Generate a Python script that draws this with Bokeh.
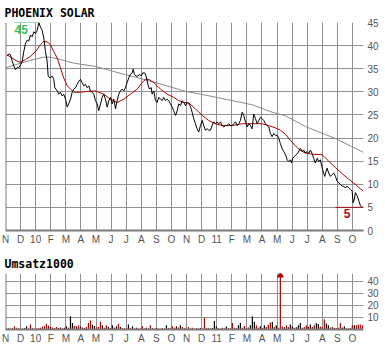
import numpy as np
from bokeh.plotting import figure
from bokeh.layouts import column
from bokeh.models import FixedTicker, Span
from bokeh.core.properties import value
from bokeh.embed import file_html
from bokeh.resources import INLINE

# ---------------- data ----------------
month_labels = ["N", "D", "10", "F", "M", "A", "M", "J", "J", "A", "S", "O",
                "N", "D", "11", "F", "M", "A", "M", "J", "J", "A", "S", "O"]
price_ticks = [0, 5, 10, 15, 20, 25, 30, 35, 40, 45]
vol_ticks = [10, 20, 30, 40]

# (month position since Nov 2009, price)
price_pts = [
    (0.07, 37.7), (0.22, 38.2), (0.33, 38.0), (0.44, 36.7), (0.55, 35.6), (0.66, 34.8),
    (0.78, 35.3), (0.88, 35.2), (0.99, 35.8), (1.11, 36.6), (1.21, 38.7), (1.33, 40.5),
    (1.44, 41.2), (1.54, 41.0), (1.66, 42.3), (1.77, 41.9), (1.88, 43.0), (1.99, 42.6),
    (2.10, 43.3), (2.21, 45.0), (2.32, 44.0), (2.43, 43.3), (2.54, 41.6), (2.65, 38.7),
    (2.76, 36.6), (2.83, 33.4), (2.94, 33.0), (3.09, 33.4), (3.20, 32.7), (3.27, 30.9),
    (3.43, 30.2), (3.53, 29.5), (3.64, 29.9), (3.76, 29.1), (3.86, 29.5), (3.98, 28.4),
    (4.09, 26.7), (4.19, 27.4), (4.31, 28.4), (4.42, 29.9), (4.53, 30.6), (4.64, 30.9),
    (4.75, 31.6), (4.86, 32.3), (4.97, 32.7), (5.08, 32.0), (5.19, 31.3), (5.30, 31.6),
    (5.41, 30.9), (5.52, 31.3), (5.63, 30.2), (5.75, 29.9), (5.85, 29.5), (5.96, 28.1),
    (6.08, 27.4), (6.18, 25.9), (6.30, 27.4), (6.41, 28.8), (6.51, 29.5), (6.63, 28.4),
    (6.74, 26.7), (6.85, 28.1), (6.96, 28.8), (7.07, 27.4), (7.18, 28.4), (7.29, 26.3),
    (7.40, 28.1), (7.51, 29.5), (7.62, 30.2), (7.73, 30.6), (7.84, 30.2), (7.95, 30.9),
    (8.06, 32.0), (8.17, 33.0), (8.28, 33.8), (8.40, 34.1), (8.46, 34.9), (8.55, 33.8),
    (8.66, 33.4), (8.77, 33.4), (8.88, 33.8), (8.99, 33.4), (9.10, 34.1), (9.23, 34.1),
    (9.32, 33.4), (9.43, 31.7), (9.54, 30.6), (9.66, 30.9), (9.72, 29.5), (9.83, 30.2),
    (9.94, 28.1), (10.05, 27.7), (10.16, 28.8), (10.27, 28.4), (10.38, 28.1), (10.49, 28.8),
    (10.60, 28.1), (10.72, 28.4), (10.82, 28.1), (10.93, 27.4), (11.05, 26.7), (11.15, 25.9),
    (11.27, 24.9), (11.38, 25.9), (11.48, 27.4), (11.60, 27.0), (11.71, 28.1), (11.82, 27.7),
    (11.93, 27.0), (12.04, 27.7), (12.15, 27.4), (12.26, 26.8), (12.37, 25.6), (12.48, 24.2),
    (12.59, 23.1), (12.70, 22.0), (12.81, 21.3), (12.92, 22.7), (13.04, 23.8), (13.14, 22.7),
    (13.25, 21.7), (13.37, 22.0), (13.47, 21.7), (13.59, 21.7), (13.70, 22.7), (13.80, 23.5),
    (13.92, 23.1), (14.03, 23.5), (14.14, 23.1), (14.25, 23.5), (14.36, 22.7), (14.47, 22.4),
    (14.58, 22.7), (14.69, 22.7), (14.80, 23.1), (14.91, 22.7), (15.02, 22.7), (15.13, 23.1),
    (15.24, 23.5), (15.36, 22.7), (15.46, 23.1), (15.57, 23.8), (15.69, 25.6), (15.79, 24.9),
    (15.91, 23.5), (16.02, 22.4), (16.12, 23.1), (16.24, 22.7), (16.35, 22.0), (16.45, 25.2),
    (16.57, 24.2), (16.68, 23.1), (16.79, 23.8), (16.90, 24.5), (17.01, 24.2), (17.12, 23.8),
    (17.23, 23.1), (17.34, 22.7), (17.45, 22.4), (17.56, 21.0), (17.67, 20.3), (17.78, 21.0),
    (17.89, 20.6), (18.01, 20.6), (18.12, 19.9), (18.22, 18.8), (18.33, 17.8), (18.44, 17.1),
    (18.56, 16.4), (18.67, 15.3), (18.78, 14.9), (18.89, 15.3), (18.96, 14.6), (19.04, 15.6),
    (19.15, 16.0), (19.26, 16.4), (19.37, 16.7), (19.48, 17.4), (19.55, 17.8), (19.66, 17.1),
    (19.77, 17.4), (19.88, 16.7), (19.99, 17.1), (20.10, 16.7), (20.21, 17.4), (20.32, 16.7),
    (20.43, 15.6), (20.54, 14.6), (20.66, 15.6), (20.76, 14.9), (20.87, 15.3), (20.99, 13.5),
    (21.09, 12.4), (21.16, 11.7), (21.25, 12.8), (21.32, 13.5), (21.42, 12.4), (21.54, 11.7),
    (21.65, 12.1), (21.76, 12.4), (21.87, 11.7), (21.98, 10.7), (22.09, 10.3), (22.20, 10.0),
    (22.31, 9.6), (22.42, 9.6), (22.53, 9.2), (22.64, 9.6), (22.75, 9.2), (22.86, 8.9),
    (22.98, 8.5), (23.04, 6.0), (23.13, 6.8), (23.19, 8.2), (23.31, 7.5), (23.42, 6.4),
    (23.53, 5.3), (23.64, 5.0), (23.72, 5.1),
]

ma38_pts = [
    (0.11, 38.0), (0.44, 37.3), (0.78, 36.6), (0.99, 36.4), (1.33, 37.0), (1.66, 37.7),
    (1.99, 38.7), (2.32, 40.2), (2.54, 40.9), (2.76, 40.8), (2.98, 40.2), (3.20, 38.7),
    (3.43, 37.3), (3.64, 35.2), (3.86, 33.0), (4.09, 31.3), (4.31, 30.6), (4.53, 29.9),
    (4.97, 29.9), (5.41, 30.1), (5.96, 30.2), (6.51, 29.5), (6.96, 28.4), (7.40, 27.7),
    (7.84, 28.4), (8.28, 29.5), (8.73, 30.6), (9.06, 32.0), (9.28, 32.7), (9.50, 32.7),
    (9.83, 32.0), (10.27, 30.6), (10.72, 29.5), (11.15, 28.8), (11.48, 28.1), (11.82, 27.7),
    (12.15, 27.6), (12.59, 26.3), (13.04, 24.9), (13.47, 23.8), (13.92, 23.1), (14.36, 22.7),
    (15.02, 22.7), (15.69, 23.1), (16.35, 23.1), (17.01, 23.1), (17.45, 22.7), (17.89, 22.2),
    (18.22, 21.7), (18.56, 20.8), (18.89, 19.5), (19.22, 18.3), (19.55, 17.3), (19.88, 16.8),
    (20.32, 16.5), (20.99, 16.4), (21.42, 15.0), (21.87, 13.6), (22.31, 12.3), (22.75, 11.1),
    (23.19, 10.0), (23.53, 9.0), (23.73, 8.5),
]

ma200_pts = [
    (0.00, 35.2), (0.99, 36.2), (1.88, 37.0), (2.54, 37.5), (2.98, 37.5), (3.64, 37.0),
    (4.09, 36.6), (4.53, 36.2), (5.96, 35.5), (6.30, 35.2), (7.84, 33.8), (8.48, 33.3),
    (10.05, 31.9), (11.93, 30.1), (12.92, 29.5), (14.14, 28.7), (16.35, 27.2), (17.67, 25.6),
    (18.56, 24.8), (19.88, 22.5), (21.87, 19.9), (23.73, 16.9),
]

# daily-ish turnover (thousands), one value per ~3 trading days
vol = [
    0.8, 1.0, 0.6, 1.2, 2.8, 1.4, 0.8, 1.0, 0.7, 1.1, 2.8, 0.9, 4.2, 1.0, 0.6, 0.8, 1.0, 1.5,
    2.2, 3.0, 4.7, 3.4, 2.0, 1.6, 1.2, 2.0, 1.3, 1.6, 1.1, 1.4, 2.8, 1.5, 11.0, 5.5, 3.2, 2.4,
    3.6, 2.5, 1.6, 1.2, 2.0, 5.5, 7.5, 4.0, 3.0, 1.8, 2.2, 6.4, 3.6, 1.5, 3.6, 2.0, 1.2, 3.6,
    1.4, 2.8, 4.7, 2.0, 1.0, 0.8, 1.2, 4.2, 1.0, 2.8, 0.8, 1.4, 0.9, 0.7, 2.8, 1.0, 1.5, 0.8,
    3.6, 1.0, 0.6, 1.2, 0.8, 0.6, 1.0, 0.8, 3.6, 1.2, 0.9, 2.8, 1.4, 2.8, 1.6, 3.6, 2.0, 1.0,
    0.9, 2.0, 0.8, 1.4, 0.7, 1.0, 0.9, 1.2, 0.8, 9.7, 1.5, 1.0, 0.8, 1.2, 7.0, 2.5, 1.0, 0.7,
    1.4, 0.9, 2.5, 1.0, 0.8, 5.5, 1.5, 1.0, 3.6, 5.5, 1.4, 3.0, 1.2, 1.6, 3.6, 11.0, 6.4, 3.6,
    1.5, 2.8, 1.2, 3.6, 2.0, 4.0, 5.8, 6.4, 2.0, 3.6, 1.5, 90.0, 2.5, 1.8, 3.6, 2.0, 4.2, 2.8,
    1.4, 1.8, 3.6, 5.5, 1.5, 2.0, 3.6, 2.2, 4.2, 2.0, 3.6, 5.5, 4.5, 2.5, 1.8, 8.6, 5.0, 3.6,
    1.6, 2.0, 1.2, 1.0, 1.5, 5.5, 1.4, 2.8, 1.0, 0.8, 1.2, 3.6, 3.6, 3.6, 4.2, 4.2, 3.6,
]
# 1 = price fell that day, 0 = price rose
vol_down = [
    1, 0, 1, 1, 1, 1, 0, 1, 0, 0, 0, 1, 1, 1, 0, 1, 1, 1,
    1, 1, 1, 1, 0, 1, 1, 1, 0, 1, 1, 0, 0, 1, 0, 0, 1, 0,
    1, 0, 1, 0, 1, 1, 1, 0, 0, 1, 1, 1, 0, 1, 1, 0, 1, 0,
    1, 0, 1, 0, 1, 0, 1, 0, 1, 0, 1, 0, 1, 0, 1, 1, 0, 1,
    1, 0, 1, 0, 1, 1, 0, 1, 0, 1, 0, 1, 1, 0, 1, 0, 1, 0,
    1, 1, 0, 1, 1, 0, 1, 0, 1, 1, 1, 0, 1, 0, 0, 0, 1, 0,
    1, 1, 0, 1, 0, 1, 1, 0, 0, 0, 1, 1, 0, 1, 0, 0, 0, 1,
    1, 0, 1, 0, 1, 1, 1, 0, 1, 0, 1, 1, 1, 0, 1, 1, 0, 0,
    1, 0, 0, 0, 1, 1, 1, 0, 0, 1, 1, 0, 0, 1, 0, 1, 0, 0,
    1, 1, 0, 1, 1, 1, 0, 0, 1, 0, 1, 1, 0, 1, 1, 1, 1,
]

# ---------------- styling ----------------
X_END = 23.73
VOL_TOP = 46.6
GRID = "#8f8f8f"
AXIS = "#7a7a7a"
LABEL = "#555555"
RED = "#b00000"
DARKRED = "#a0101a"
GREEN = "#33c45a"
MA_GRAY = "#8a8a8a"
LABEL_FONT = "Liberation Sans"

price_x, price_y = map(list, zip(*price_pts))
ma38_x, ma38_y = map(list, zip(*ma38_pts))
ma200_x, ma200_y = map(list, zip(*ma200_pts))
vol_x = list(0.0663 + 0.1325 * np.arange(len(vol)))


def style(p, yticks):
    p.xaxis.ticker = FixedTicker(ticks=list(range(len(month_labels))))
    p.xgrid.ticker = FixedTicker(ticks=list(range(len(month_labels))))
    p.xaxis.major_label_overrides = {i: s for i, s in enumerate(month_labels)}
    p.yaxis.ticker = FixedTicker(ticks=yticks)
    p.ygrid.ticker = FixedTicker(ticks=yticks)
    for g in (p.xgrid, p.ygrid):
        g.grid_line_color = GRID
        g.grid_line_width = 1
    for ax in (p.xaxis, p.yaxis):
        ax.major_tick_in = 0
        ax.major_tick_out = 0
        ax.minor_tick_line_color = None
        ax.major_label_text_font = LABEL_FONT
        ax.major_label_text_font_size = "10px"
        ax.major_label_text_color = LABEL
    p.xaxis.axis_line_color = AXIS
    p.xaxis.axis_line_width = 2
    p.xaxis.major_label_standoff = 3
    p.yaxis.axis_line_color = None
    p.yaxis.major_label_standoff = 4
    p.add_layout(Span(location=0, dimension="height", line_color=AXIS, line_width=2))
    p.title.text_font = "DejaVu Sans Mono"
    p.title.text_font_style = "bold"
    p.title.text_font_size = "11.5px"
    p.title.text_color = "black"
    p.title.offset = -1


# ---------------- price panel ----------------
p1 = figure(width=385, height=250, x_range=(0, X_END), y_range=(0, 45),
            y_axis_location="right", title="PHOENIX SOLAR",
            output_backend="svg", toolbar_location=None,
            min_border_left=5, min_border_right=22, min_border_top=19, min_border_bottom=20,
            outline_line_color=None, background_fill_color="white", border_fill_color="white")
style(p1, price_ticks)
p1.title.standoff = 6

p1.line(ma200_x, ma200_y, line_color=MA_GRAY, line_width=1)
p1.line(ma38_x, ma38_y, line_color=RED, line_width=1)
p1.line(price_x, price_y, line_color="black", line_width=1)

i_max = int(np.argmax(price_y))
i_min = int(np.argmin(price_y))
x_hi, y_hi = price_x[i_max], price_y[i_max]
x_lo, y_lo = price_x[i_min], price_y[i_min]
p1.line([x_hi - 1.65, x_hi], [y_hi, y_hi], line_color=GREEN, line_width=1)
p1.text(x=[x_hi], y=[y_hi], text=[f"{y_hi:.0f}"], text_font=value(LABEL_FONT),
        text_font_style="bold", text_font_size="12px", text_color=GREEN,
        text_align="right", text_baseline="top", x_offset=-11, y_offset=2)
p1.line([x_lo - 1.77, X_END], [y_lo, y_lo], line_color=DARKRED, line_width=1)
p1.text(x=[x_lo], y=[y_lo], text=[f"{y_lo:.0f}"], text_font=value(LABEL_FONT),
        text_font_style="bold", text_font_size="12px", text_color=DARKRED,
        text_align="center", text_baseline="top", x_offset=-15, y_offset=2)

# ---------------- volume panel ----------------
p2 = figure(width=385, height=101, x_range=(0, X_END), y_range=(0, VOL_TOP),
            y_axis_location="right", title="Umsatz1000",
            output_backend="svg", toolbar_location=None,
            min_border_left=5, min_border_right=22, min_border_top=23, min_border_bottom=22,
            outline_line_color=None, background_fill_color="white", border_fill_color="white")
style(p2, vol_ticks)
p2.title.standoff = 6

vol_colors = [RED if d else "black" for d in vol_down]
vol_top = [min(v, VOL_TOP) for v in vol]
p2.segment(x0=vol_x, y0=[0] * len(vol), x1=vol_x, y1=vol_top, line_color=vol_colors, line_width=1.2)
over = [i for i, v in enumerate(vol) if v > VOL_TOP]
p2.scatter(x=[vol_x[i] for i in over], y=[VOL_TOP - 1.5 for _ in over], marker="triangle",
           size=6, fill_color=RED, line_color=RED)

layout = column(p1, p2, spacing=0)
open("out.html", "w").write(file_html(layout, INLINE))
